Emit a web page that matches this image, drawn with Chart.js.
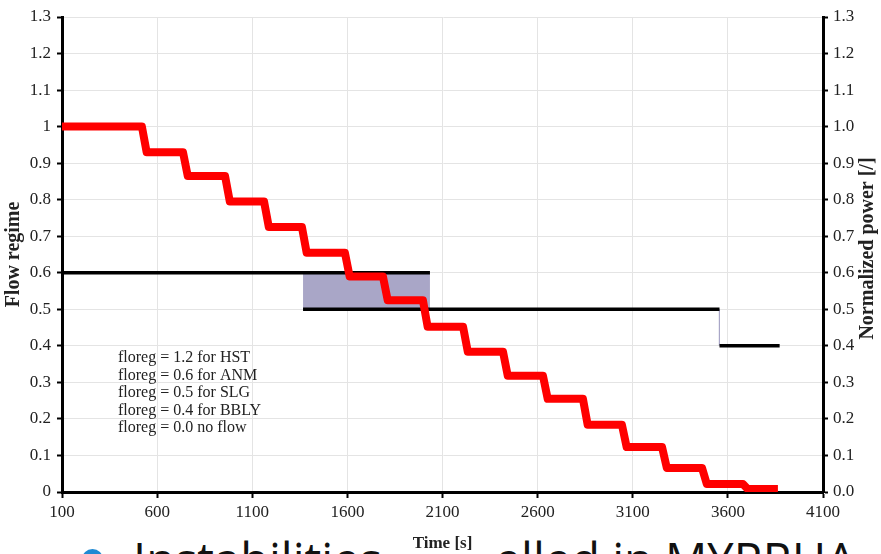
<!DOCTYPE html>
<html>
<head>
<meta charset="utf-8">
<script src="https://cdn.jsdelivr.net/npm/chart.js@4.4.1/dist/chart.umd.min.js"></script>
<style>
html, body { margin: 0; padding: 0; background: #fff; overflow: hidden; }
#wrap { position: relative; width: 881px; height: 554px; overflow: hidden; }
#chart { position: absolute; left: 0; top: 0; z-index: 2; }
#caption { position: absolute; left: 133px; top: 536px; z-index: 1; font-family: "Open Sans", sans-serif;
  font-size: 47px; line-height: 47px; white-space: nowrap; color: #111; }
#bullet { position: absolute; left: 82px; top: 549px; width: 21px; height: 21px; border-radius: 50%;
  background: #1f8ad3; z-index: 1; }
</style>
</head>
<body>
<div id="wrap">
  <div id="bullet"></div>
  <div id="caption">Instabilities modelled in MYRRHA</div>
  <canvas id="chart" width="881" height="554"></canvas>
</div>
<script>
// axis ticks
const timeTicks = [100, 600, 1100, 1600, 2100, 2600, 3100, 3600, 4100];
const timeTickLabels = ["100", "600", "1100", "1600", "2100", "2600", "3100", "3600", "4100"];
const flowTicks = [0, 0.1, 0.2, 0.3, 0.4, 0.5, 0.6, 0.7, 0.8, 0.9, 1.0, 1.1, 1.2, 1.3];
const flowTickLabels = ["0", "0.1", "0.2", "0.3", "0.4", "0.5", "0.6", "0.7", "0.8", "0.9", "1", "1.1", "1.2", "1.3"];
const powerTickLabels = ["0.0", "0.1", "0.2", "0.3", "0.4", "0.5", "0.6", "0.7", "0.8", "0.9", "1.0", "1.1", "1.2", "1.3"];

// normalized power (red), one level per step, drops at these times
const powerLevels = [1.0, 0.93, 0.865, 0.795, 0.725, 0.655, 0.59, 0.525, 0.452, 0.384, 0.318, 0.255, 0.184, 0.123, 0.066, 0.022, 0.008];
const powerDropTimes = [520, 736, 957, 1162, 1361, 1587, 1787, 1997, 2208, 2418, 2628, 2838, 3043, 3254, 3464, 3679];
const powerStart = 100;
const powerEnd = 3863;
const rampSeconds = 25;

// flow regime (black), flat segments
const flowStart = [100, 1367, 3556];
const flowEnd = [2034, 3556, 3872];
const flowLevel = [0.6, 0.5, 0.4];

// oscillating bands (shaded)
const bandStart = [1367, 3551];
const bandEnd = [2034, 3559];
const bandHigh = [0.6, 0.5];
const bandLow = [0.5, 0.4];

const floregNotes = ["floreg = 1.2 for HST", "floreg = 0.6 for ANM", "floreg = 0.5 for SLG",
                     "floreg = 0.4 for BBLY", "floreg = 0.0 no flow"];

// build points
const powerPts = [];
powerLevels.forEach(function(lv, i){
    const s = i === 0 ? powerStart : powerDropTimes[i - 1] + rampSeconds;
    const e = i < powerDropTimes.length ? powerDropTimes[i] : powerEnd;
    powerPts.push({x: s, y: lv}, {x: e, y: lv});
});

const flowPts = [];
flowLevel.forEach(function(lv, i){
    flowPts.push({x: flowStart[i], y: lv}, {x: flowEnd[i], y: lv}, {x: flowEnd[i], y: null});
});

const bandSets = bandStart.map(function(s, i){
    return {
        data: [{x: s, y: bandLow[i]}, {x: s, y: bandHigh[i]}, {x: bandEnd[i], y: bandHigh[i]}, {x: bandEnd[i], y: bandLow[i]}],
        yAxisID: 'y',
        borderWidth: 0,
        pointRadius: 0,
        backgroundColor: '#a9a6c7',
        fill: {value: bandLow[i]}
    };
});

Chart.defaults.font.family = "'Liberation Serif', 'Times New Roman', serif";
Chart.defaults.color = '#222';

const notesPlugin = {
    id: 'notes',
    beforeDraw: function(chart){
        // white box under the x title so the caption hides behind it
        const c = chart.ctx, xs = chart.scales.x;
        const cx = (xs.left + xs.right) / 2;
        c.save();
        c.fillStyle = '#fff';
        c.fillRect(cx - 57, xs.bottom - 22, 114, 22);
        c.restore();
    },
    afterDraw: function(chart){
        const c = chart.ctx, ys = chart.scales.y2;
        c.save();
        c.font = "16px 'Liberation Serif'";
        c.fillStyle = '#222';
        c.textBaseline = 'middle';
        floregNotes.forEach(function(t, i){
            c.fillText(t, 118, 358 + i * 17.5);
        });
        // right axis title, reading bottom to top
        c.translate(ys.right - 13, (chart.chartArea.top + chart.chartArea.bottom) / 2 - 6);
        c.rotate(-Math.PI / 2);
        c.font = "bold 20px 'Liberation Serif'";
        c.textAlign = 'center';
        c.fillText('Normalized power [/]', 0, 0);
        c.restore();
    }
};

new Chart(document.getElementById('chart'), {
    type: 'line',
    data: {
        datasets: [
            {
                label: 'Normalized power',
                data: powerPts,
                yAxisID: 'y2',
                borderColor: '#ff0000',
                borderWidth: 8,
                borderJoinStyle: 'round',
                pointRadius: 0,
                tension: 0,
                fill: false
            },
            {
                label: 'Flow regime',
                data: flowPts,
                yAxisID: 'y',
                borderColor: '#000',
                borderWidth: 3.5,
                pointRadius: 0,
                spanGaps: false,
                fill: false
            }
        ].concat(bandSets)
    },
    options: {
        responsive: false,
        animation: false,
        devicePixelRatio: 1,
        layout: {padding: {top: 17, left: 0, right: 0, bottom: 0}},
        plugins: {legend: {display: false}, tooltip: {enabled: false}},
        scales: {
            x: {
                type: 'linear', min: 100, max: 4100,
                afterBuildTicks: function(s){ s.ticks = timeTicks.map(function(v){ return {value: v}; }); },
                afterFit: function(s){ s.height = 62; },
                ticks: {font: {size: 17}, padding: 4, maxRotation: 0, autoSkip: false,
                        callback: function(v, i){ return timeTickLabels[i]; }},
                grid: {color: '#e4e4e4', lineWidth: 1, tickLength: 6, tickColor: '#000', tickWidth: 2},
                border: {color: '#000', width: 3},
                title: {display: true, text: 'Time [s]', font: {size: 17, weight: 'bold'}, padding: {top: 0, bottom: 0}}
            },
            y: {
                position: 'left', min: 0, max: 1.3,
                afterBuildTicks: function(s){ s.ticks = flowTicks.map(function(v){ return {value: v}; }); },
                afterFit: function(s){ s.width = 62; },
                ticks: {font: {size: 17}, padding: 6, callback: function(v, i){ return flowTickLabels[i]; }},
                grid: {color: '#e4e4e4', lineWidth: 1, tickLength: 5, tickColor: '#000', tickWidth: 2},
                border: {color: '#000', width: 3},
                title: {display: true, text: 'Flow regime', font: {size: 20, weight: 'bold'}, padding: {top: 2, bottom: 0}}
            },
            y2: {
                position: 'right', min: 0, max: 1.3,
                afterBuildTicks: function(s){ s.ticks = flowTicks.map(function(v){ return {value: v}; }); },
                afterFit: function(s){ s.width = 58; },
                ticks: {font: {size: 17}, padding: 5, callback: function(v, i){ return powerTickLabels[i]; }},
                grid: {drawOnChartArea: false, tickLength: 5, tickColor: '#000', tickWidth: 2},
                border: {color: '#000', width: 3},
                title: {display: false}
            }
        }
    },
    plugins: [notesPlugin]
});
</script>
</body>
</html>
